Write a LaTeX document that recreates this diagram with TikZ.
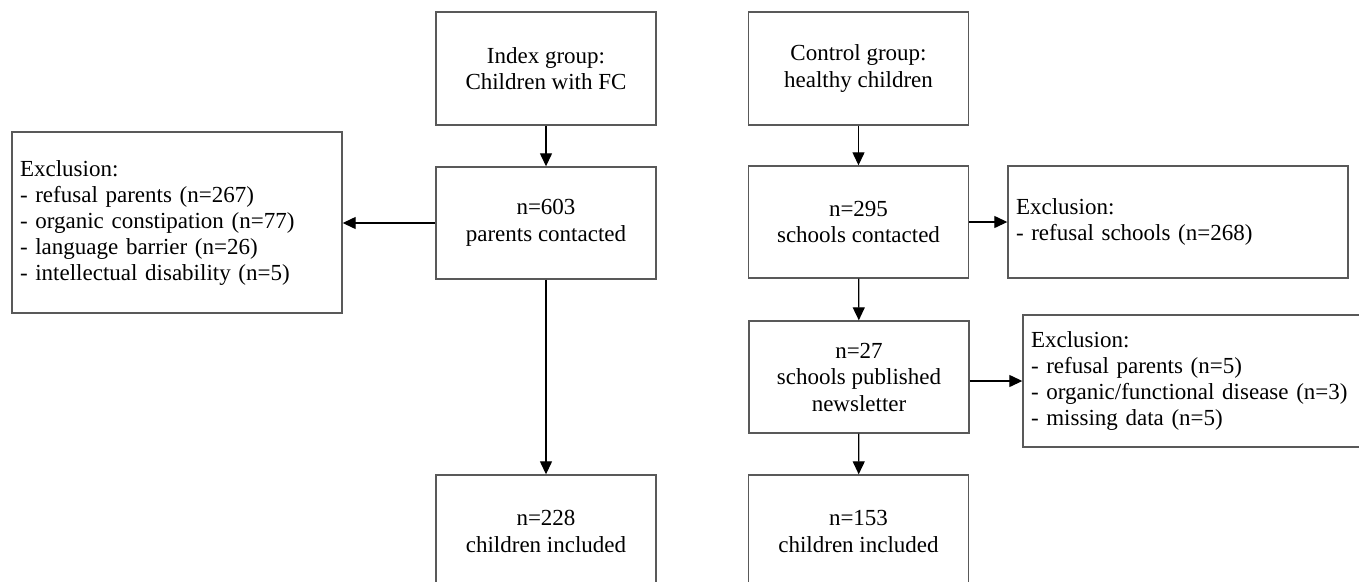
\documentclass[tikz,border=0pt]{standalone}
\usepackage{fontspec}
\setmainfont{Liberation Serif}
\usepackage{tikz}
\usetikzlibrary{arrows.meta,positioning}
\tikzset{x=1pt, y=-1pt,
	box/.style={draw=black!65, line width=1.4pt, align=center, inner sep=0pt, minimum width=220pt, minimum height=112pt, font=\fontsize{23}{26.5}\selectfont},
	exclbox/.style={draw=black!65, line width=1.4pt, align=left, inner xsep=8pt, inner ysep=0pt, font=\fontsize{23}{26}\selectfont},
	arr/.style={-{Triangle[length=13pt,width=12pt]}, line width=1.3pt}}

\begin{document}
\begin{tikzpicture}
		\clip (0,0) rectangle (1359,581);
		\fill[white] (0,0) rectangle (1359,581);
		\node(index)[box, minimum height=113pt] at (546,68.5){Index group:\\Children with FC};
		\node(control)[box, minimum height=113pt] at (858.5,68.5){Control group:\\healthy children};
		\node(parents)[box] at (546,223){n=603\\parents contacted};
		\node(schools)[box] at (858.5,222){n=295\\schools contacted};
		\node(newsletter)[box] at (859,377){n=27\\schools published\\newsletter};
		\node(incindex)[box, minimum height=113pt] at (546,531.5){n=228\\children included};
		\node(inccontrol)[box, minimum height=113pt] at (858.5,531.5){n=153\\children included};
		\node(exparents)[exclbox, text width=314pt, minimum height=181pt] at (177,222.5){Exclusion:\\- refusal parents (n=267)\\- organic constipation (n=77)\\- language barrier (n=26)\\- intellectual disability (n=5)};
		\node(exschools)[exclbox, text width=324pt, minimum height=112pt] at (1178,222){Exclusion:\\- refusal schools (n=268)};
		\node(exchildren)[exclbox, text width=325pt, minimum height=132pt] at (1193.5,381){Exclusion:\\- refusal parents (n=5)\\- organic/functional disease (n=3)\\- missing data (n=5)};
		\draw[arr](index) to (parents);
		\draw[arr](parents) to (parents.west -| exparents.east);
		\draw[arr](parents) to (incindex);
		\draw[arr](control) to (schools);
		\draw[arr](schools) to (exschools);
		\draw[arr](schools) to (newsletter);
		\draw[arr](newsletter.east |- exchildren.west) to (exchildren);
		\draw[arr](newsletter) to (inccontrol);
	\end{tikzpicture}
\end{document}
